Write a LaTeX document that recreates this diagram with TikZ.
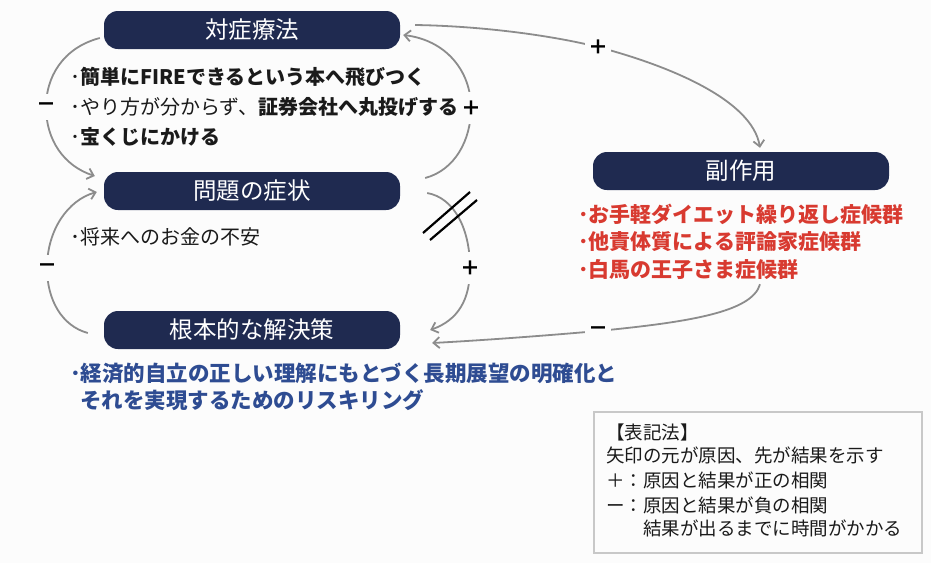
\documentclass[tikz,border=0pt]{standalone}
\usepackage{fontspec}
\setmainfont{Noto Sans CJK JP}
\usepackage{xcolor}
\usetikzlibrary{calc,arrows.meta}
\definecolor{navy}{HTML}{1F2A50}
\definecolor{redtxt}{HTML}{D83A30}
\definecolor{bluetxt}{HTML}{2E4C92}
\definecolor{arrowgray}{HTML}{8C8C8C}
\definecolor{ink}{HTML}{1A1A1A}
\definecolor{paper}{HTML}{FCFCFC}
\definecolor{frame}{HTML}{C8C8C8}
\tikzset{
  head/.style={fill=navy, rounded corners=14pt, minimum width=296pt, minimum height=38pt, inner sep=0pt, text=white, font=\fontsize{23.5}{23.5}\selectfont},
  link/.style={draw=arrowgray, line width=1.8pt, -{Straight Barb[length=6pt,width=11pt]}},
  sign/.style={fill=paper, inner xsep=3pt, inner ysep=9pt, text=black, font=\fontsize{20}{20}\selectfont\bfseries},
  item/.style={anchor=base west, inner sep=0pt, text=ink, font=\fontsize{20}{20}\selectfont},
  bad/.style={anchor=base west, inner sep=0pt, text=redtxt, font=\fontsize{21}{21}\selectfont\bfseries},
  good/.style={anchor=base west, inner sep=0pt, text=bluetxt, font=\fontsize{21.5}{21.5}\selectfont\bfseries},
  key/.style={draw=frame, line width=2.5pt, minimum width=328pt, minimum height=141pt, inner sep=0pt},
  keytxt/.style={anchor=base west, inner sep=0pt, text=ink, font=\fontsize{18.5}{18.5}\selectfont},
  lag/.style={draw=black, line width=2.2pt},
}

\begin{document}
\begin{tikzpicture}[x=1pt,y=-1pt]
\fill[paper] (0,0) rectangle (931,563);
\useasboundingbox (0,0) rectangle (931,563);

\node[head] (sym) at (252,30) {対症療法};
\node[head] (prob) at (252,191) {問題の症状};
\node[head] (root) at (252,330) {根本的な解決策};
\node[head] (side) at (741,171) {副作用};

\node[item] (fix1) at (70,84.5) {･{\bfseries 簡単にFIREできるという本へ飛びつく}};
\node[item] (fix2) at (70,114) {･やり方が分からず、{\bfseries 証券会社へ丸投げする}};
\node[item] (fix3) at (70,144) {･{\bfseries 宝くじにかける}};
\node[item] (worry) at (70,244) {･将来へのお金の不安};

\foreach \i/\y/\t in {1/222/お手軽ダイエット繰り返し症候群, 2/249/他責体質による評論家症候群, 3/277/白馬の王子さま症候群}
  \node[bad] (eff\i) at (578,\y) {･\t};

\node[good] (plan1) at (70,381) {･経済的自立の正しい理解にもとづく長期展望の明確化と};
\node[good] (plan2) at (80,408) {それを実現するためのリスキリング};

\draw[link] ($(sym.west)+(-4,8)$) .. controls (62,48) and (46,78) .. (46,107) node[sign] (s1) {－}
  .. controls (46,140) and (64,166) .. ($(prob.west)+(-9,-15)$);
\draw[link] ($(prob.east)+(25,-13)$) .. controls (455,170) and (471,140) .. (471,108) node[sign] (s2) {＋}
  .. controls (471,70) and (445,40) .. ($(sym.east)+(3,5)$);
\draw[link] ($(root.west)+(-16,3)$) .. controls (62,326) and (47,300) .. (47,268) node[sign] (s3) {－}
  .. controls (47,230) and (68,200) .. ($(prob.west)+(-7,1)$);
\draw[link] ($(prob.east)+(27,2)$) .. controls (455,198) and (470,230) .. (470,268) node[sign] (s4) {＋}
  .. controls (470,300) and (458,320) .. ($(root.east)+(30,0)$);
\draw[link] ($(sym.east)+(15,-5)$) .. controls (480,26) and (550,35) .. (598,47) node[sign] (s5) {＋}
  .. controls (670,66) and (752,100) .. ($(side.north)+(19,-4)$);
\draw[link] ($(eff3.south west)+(182,5)$) .. controls (752,312) and (690,322) .. (598,331) node[sign] (s6) {－}
  .. controls (530,337) and (470,341) .. ($(root.east)+(32,13)$);

\draw[lag] (423,233) -- (470,192);
\draw[lag] (430,240) -- (477,200);

\node[key] (legend) at (758,482.5) {};
\foreach \i/\x/\y/\t in {1/606/439/【表記法】, 2/606/462/矢印の元が原因、先が結果を示す, 3/606/487/＋：原因と結果が正の相関, 4/606/512/ー：原因と結果が負の相関, 5/643/535/結果が出るまでに時間がかかる}
  \node[keytxt] (key\i) at (\x,\y) {\t};
\end{tikzpicture}
\end{document}
